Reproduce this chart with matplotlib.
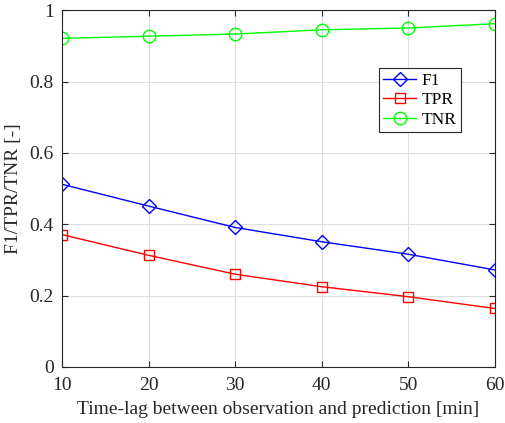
import matplotlib.pyplot as plt
import numpy as np

plt.rcParams['font.family'] = ['Liberation Serif', 'DejaVu Serif']
plt.rcParams['mathtext.fontset'] = 'stix'

lags = [10, 20, 30, 40, 50, 60]
f1 = [0.512, 0.451, 0.391, 0.351, 0.316, 0.272]
tpr = [0.371, 0.313, 0.260, 0.225, 0.197, 0.164]
tnr = [0.921, 0.927, 0.933, 0.945, 0.950, 0.962]

fig = plt.figure(figsize=(5.06, 4.23), dpi=100)
ax = fig.add_axes([0.1225, 0.1324, 0.8555, 0.8436])

axcol = '#262626'
ax.plot(lags, f1, color='#0000ff', lw=1, marker='D', ms=7.5, mfc='none', mew=1, label='F1')
ax.plot(lags, tpr, color='#ff0000', lw=1, marker='s', ms=7.5, mfc='none', mew=1, label='TPR')
ax.plot(lags, tnr, color='#00ff00', lw=1, marker='o', ms=9, mfc='none', mew=1, label='TNR')

ax.set_xlim(10, 60)
ax.set_ylim(0, 1)
ax.set_xticks(lags)
ax.set_yticks([0, 0.2, 0.4, 0.6, 0.8, 1])
ax.set_yticklabels(['0', '0.2', '0.4', '0.6', '0.8', '1'])
ax.grid(True, color='#dfdfdf', lw=0.8)
ax.set_axisbelow(True)
ax.tick_params(direction='in', length=4, colors=axcol, labelsize=14, top=True, right=True)
ax.tick_params(axis='x', pad=7)
ax.tick_params(axis='y', pad=6)
for s in ax.spines.values():
    s.set_color(axcol)
    s.set_linewidth(0.8)

ax.set_xlabel('Time-lag between observation and prediction [min]', fontsize=14, color=axcol, labelpad=5)
ax.set_ylabel('F1/TPR/TNR [-]', fontsize=14, color=axcol, labelpad=5)

leg = ax.legend(loc='upper right', bbox_to_anchor=(0.921, 0.837), fontsize=12.5,
                fancybox=False, framealpha=1, edgecolor=axcol, borderpad=0.25,
                handlelength=1.9, handletextpad=0.3, labelspacing=0.2, borderaxespad=0)
leg.get_frame().set_linewidth(0.8)

fig.savefig('out.png', dpi=100)
